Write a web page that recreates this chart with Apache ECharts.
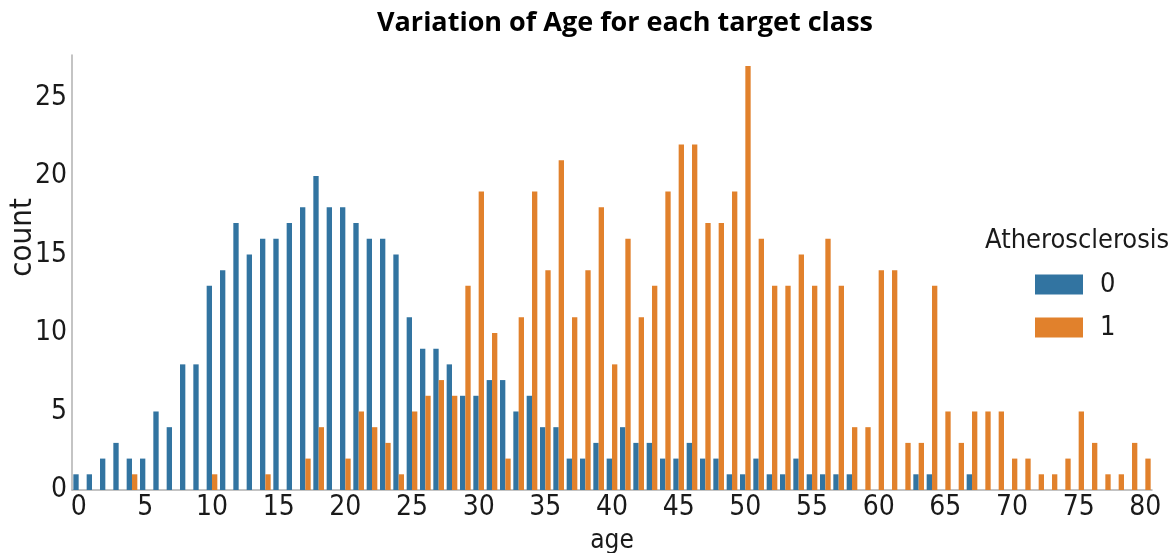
<!DOCTYPE html>
<html>
<head>
<meta charset="utf-8">
<script src="https://cdn.jsdelivr.net/npm/echarts@6/dist/echarts.min.js"></script>
<style>
html,body{margin:0;padding:0;background:#fff;}
#chart{width:1173px;height:553px;}
</style>
</head>
<body>
<div id="chart"></div>
<script>
const ages = ["0","1","2","3","4","5","6","7","8","9","10","11","12","13","14","15","16","17","18","19","20",
  "21","22","23","24","25","26","27","28","29","30","31","32","33","34","35","36","37","38","39","40",
  "41","42","43","44","45","46","47","48","49","50","51","52","53","54","55","56","57","58","59","60",
  "61","62","63","64","65","66","67","68","69","70","71","72","73","74","75","76","77","78","79","80"];

const class0 = [1,1,2,3,2,2,5,4,8,8,13,14,17,15,16,16,17,18,20,18,18,
  17,16,16,15,11,9,9,8,6,6,7,7,5,6,4,4,2,2,3,2,
  4,3,3,2,2,3,2,2,1,1,2,1,1,2,1,1,1,1,0,0,
  0,0,1,1,0,0,1,0,0,0,0,0,0,0,0,0,0,0,0,0];

const class1 = [0,0,0,0,1,0,0,0,0,0,1,0,0,0,1,0,0,2,4,0,2,
  5,4,3,1,5,6,7,6,13,19,10,2,11,19,14,21,11,14,18,8,
  16,11,13,19,22,22,17,17,19,27,16,13,13,15,13,16,13,4,4,14,
  14,3,3,13,5,3,5,5,5,2,2,1,1,2,5,3,1,1,3,2];

const seriesNames = ["0","1"];
const colors = ["#3274a1","#e1812c"];

const tickFont = '"DejaVu Sans Condensed","DejaVu Sans",sans-serif';

const chart = echarts.init(document.getElementById('chart'), null, {renderer:'canvas'});
chart.setOption({
  animation:false,
  backgroundColor:'#ffffff',
  title:[
    {text:'Variation of Age for each target class', left:620, top:5, textAlign:'center',
     textStyle:{fontFamily:'"Open Sans"', fontWeight:'bold', fontSize:27, color:'#000'}},
    {text:'Atherosclerosis', left:980, top:222,
     textStyle:{fontFamily:tickFont, fontWeight:'normal', fontSize:27, color:'#1a1a1a'}}
  ],
  legend:{
    orient:'vertical', left:1030, top:266, icon:'rect',
    itemWidth:48, itemHeight:20, itemGap:16,
    data:seriesNames,
    textStyle:{fontFamily:tickFont, fontSize:27, color:'#1a1a1a', padding:[0,0,0,12]}
  },
  grid:{left:72, right:21, top:55, bottom:63, containLabel:false, outerBoundsMode:'none'},
  xAxis:{
    type:'category', data:ages, boundaryGap:true,
    name:'age', nameLocation:'middle', nameGap:38, nameMoveOverlap:false,
    nameTextStyle:{fontFamily:tickFont, fontSize:26, color:'#1a1a1a'},
    axisLine:{show:true, lineStyle:{color:'#b0b0b0', width:1.5}},
    axisTick:{show:false},
    axisLabel:{interval:4, margin:4, fontFamily:tickFont, fontSize:28, color:'#1a1a1a'},
    splitLine:{show:false}
  },
  yAxis:{
    type:'value', min:0, max:27.7, interval:5,
    name:'count', nameLocation:'middle', nameGap:34, nameMoveOverlap:false,
    nameTextStyle:{fontFamily:tickFont, fontSize:31, color:'#1a1a1a', padding:[0,0,0,70]},
    axisLine:{show:true, lineStyle:{color:'#b0b0b0', width:1.5}},
    axisTick:{show:false},
    axisLabel:{showMaxLabel:false, margin:5, fontFamily:tickFont, fontSize:28, color:'#1a1a1a'},
    splitLine:{show:false}
  },
  series:[
    {name:seriesNames[0], type:'bar', data:class0, itemStyle:{color:colors[0]},
     barGap:'0%', barCategoryGap:'20%'},
    {name:seriesNames[1], type:'bar', data:class1, itemStyle:{color:colors[1]},
     barGap:'0%', barCategoryGap:'20%'}
  ]
});
</script>
</body>
</html>
